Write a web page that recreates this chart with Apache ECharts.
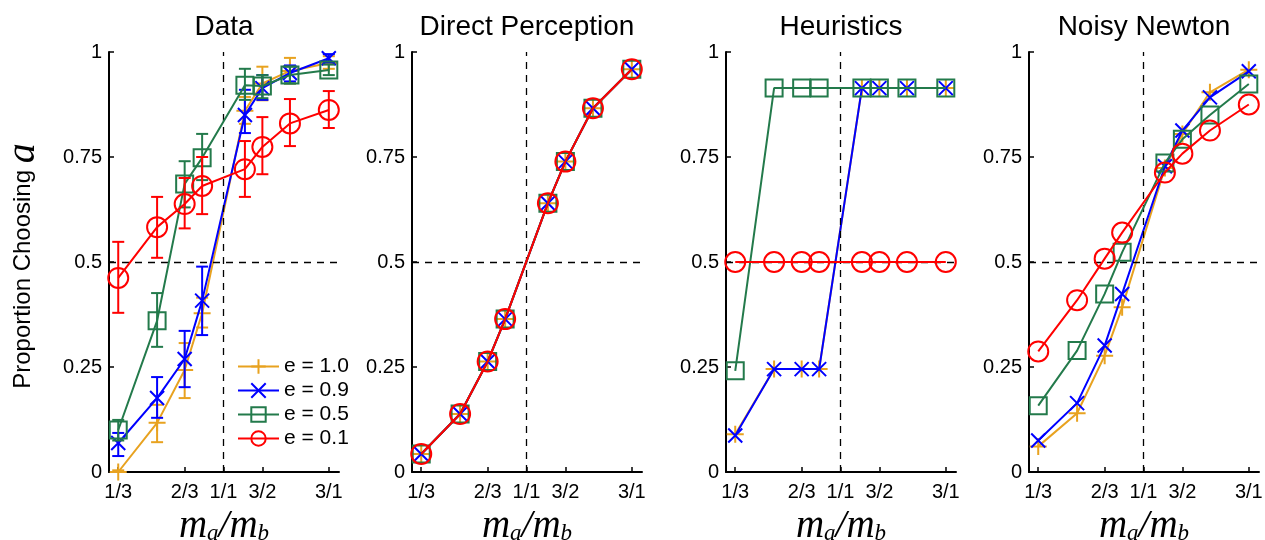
<!DOCTYPE html>
<html><head><meta charset="utf-8">
<script src="https://cdn.jsdelivr.net/npm/echarts@6/dist/echarts.min.js"></script>
<style>html,body{margin:0;padding:0;background:#fff}#c{width:1265px;height:540px}</style>
</head><body><div id="c"></div>
<script>
// ---------- data ----------
const panelTitles = ['Data', 'Direct Perception', 'Heuristics', 'Noisy Newton'];
const seriesNames = ['e = 1.0', 'e = 0.9', 'e = 0.5', 'e = 0.1'];
const seriesColors = ['#E8A21F', '#0000FF', '#237A4B', '#FF0000'];
const massRatios = [1/3, 1/2, 2/3, 4/5, 5/4, 3/2, 2, 3];
const tickRatios = [1/3, 2/3, 1, 3/2, 3];
const tickLabels = ['1/3', '2/3', '1/1', '3/2', '3/1'];

// Data panel (means and error-bar ends)
const dataE10   = [0.000, 0.117, 0.243, 0.378, 0.860, 0.925, 0.955, 0.974];
const dataE10Lo = [0.000, 0.071, 0.176, 0.344, 0.829, 0.885, 0.925, 0.960];
const dataE10Hi = [0.004, 0.160, 0.307, 0.415, 0.893, 0.965, 0.986, 0.990];
const dataE09   = [0.069, 0.176, 0.269, 0.408, 0.850, 0.914, 0.950, 0.985];
const dataE09Lo = [0.038, 0.129, 0.202, 0.326, 0.807, 0.886, 0.930, 0.975];
const dataE09Hi = [0.093, 0.226, 0.336, 0.489, 0.910, 0.945, 0.968, 0.995];
const dataE05   = [0.100, 0.360, 0.686, 0.748, 0.921, 0.919, 0.945, 0.957];
const dataE05Lo = [0.075, 0.298, 0.630, 0.695, 0.886, 0.890, 0.925, 0.945];
const dataE05Hi = [0.124, 0.426, 0.740, 0.805, 0.960, 0.945, 0.965, 0.970];
const dataE01   = [0.462, 0.583, 0.638, 0.681, 0.721, 0.774, 0.830, 0.862];
const dataE01Lo = [0.379, 0.510, 0.580, 0.614, 0.655, 0.709, 0.776, 0.819];
const dataE01Hi = [0.548, 0.655, 0.700, 0.750, 0.788, 0.845, 0.888, 0.907];

// Direct Perception
const dpE10 = [0.043, 0.138, 0.263, 0.364, 0.640, 0.739, 0.866, 0.959];
const dpE09 = [0.043, 0.138, 0.263, 0.364, 0.640, 0.739, 0.866, 0.959];
const dpE05 = [0.043, 0.138, 0.263, 0.364, 0.640, 0.739, 0.866, 0.959];
const dpE01 = [0.043, 0.138, 0.263, 0.364, 0.640, 0.739, 0.866, 0.959];

// Heuristics
const heE10 = [0.090, 0.245, 0.245, 0.245, 0.914, 0.914, 0.914, 0.914];
const heE09 = [0.087, 0.245, 0.245, 0.245, 0.914, 0.914, 0.914, 0.914];
const heE05 = [0.241, 0.914, 0.914, 0.914, 0.914, 0.914, 0.914, 0.914];
const heE01 = [0.500, 0.500, 0.500, 0.500, 0.500, 0.500, 0.500, 0.500];

// Noisy Newton
const nnE10 = [0.061, 0.140, 0.277, 0.392, 0.724, 0.805, 0.904, 0.958];
const nnE09 = [0.075, 0.164, 0.301, 0.424, 0.728, 0.813, 0.892, 0.954];
const nnE05 = [0.158, 0.289, 0.424, 0.523, 0.736, 0.792, 0.850, 0.924];
const nnE01 = [0.287, 0.409, 0.508, 0.570, 0.713, 0.758, 0.813, 0.875];

// ---------- build ----------
const panelValues = [
  [dataE10, dataE09, dataE05, dataE01],
  [dpE10, dpE09, dpE05, dpE01],
  [heE10, heE09, heE05, heE01],
  [nnE10, nnE09, nnE05, nnE01]
];
const errLows = [dataE10Lo, dataE09Lo, dataE05Lo, dataE01Lo];
const errHighs = [dataE10Hi, dataE09Hi, dataE05Hi, dataE01Hi];

const symbols = ['path://M0,-1L0,1M-1,0L1,0', 'path://M-1,-1L1,1M-1,1L1,-1', 'rect', 'circle'];
const symbolSizes = [17, 14, 17, 20];

const gridLefts = [109, 412, 726, 1029];
const gridW = 230, gridTop = 52, gridH = 420;
const sans = '"Liberation Sans", Arial, sans-serif';
const serif = '"Liberation Serif", "Times New Roman", serif';

const lnTicks = tickRatios.map(Math.log);
function tickFmt(v) {
  for (let i = 0; i < lnTicks.length; i++) if (Math.abs(lnTicks[i] - v) < 1e-6) return tickLabels[i];
  return '';
}

const grids = [], xAxes = [], yAxes = [], series = [], graphics = [];
for (let p = 0; p < 4; p++) {
  grids.push({left: gridLefts[p], top: gridTop, width: gridW, height: gridH, outerBoundsMode: 'none', containLabel: false});
  xAxes.push({
    type: 'value', gridIndex: p, min: -1.195, max: 1.205,
    axisLine: {onZero: false, lineStyle: {color: '#000', width: 2}},
    axisTick: {show: true, inside: true, length: 5, lineStyle: {color: '#000', width: 1.5}, customValues: lnTicks},
    axisLabel: {customValues: lnTicks, formatter: tickFmt, color: '#000', fontSize: 20, fontFamily: sans, margin: 10},
    splitLine: {show: false},
    name: '{m|m}{s|a}{m|/m}{s|b}', nameLocation: 'middle', nameGap: 27,
    nameTextStyle: {rich: {
      m: {fontFamily: serif, fontStyle: 'italic', fontSize: 39, color: '#000', lineHeight: 40, verticalAlign: 'bottom'},
      s: {fontFamily: serif, fontStyle: 'italic', fontSize: 23, color: '#000', lineHeight: 38, verticalAlign: 'bottom'}
    }}
  });
  yAxes.push({
    type: 'value', gridIndex: p, min: 0, max: 1, interval: 0.25,
    axisLine: {show: true, onZero: false, lineStyle: {color: '#000', width: 2}},
    axisTick: {show: true, inside: true, length: 5, lineStyle: {color: '#000', width: 1.5}},
    axisLabel: {color: '#000', fontSize: 20, fontFamily: sans, margin: 7},
    splitLine: {show: false}
  });
  for (let s = 0; s < 4; s++) {
    const vals = panelValues[p][s];
    series.push({
      type: 'line', name: seriesNames[s], xAxisIndex: p, yAxisIndex: p,
      data: massRatios.map((r, i) => [Math.log(r), vals[i]]),
      symbol: symbols[s], symbolSize: symbolSizes[s],
      lineStyle: {color: seriesColors[s], width: 2},
      itemStyle: {color: 'none', borderColor: seriesColors[s], borderWidth: 2},
      emphasis: {disabled: true}, animation: false, z: 3 + s
    });
    if (p === 0) {
      const lo = errLows[s], hi = errHighs[s], col = seriesColors[s];
      series.push({
        type: 'custom', xAxisIndex: 0, yAxisIndex: 0, animation: false, z: 3 + s,
        data: massRatios.map((r, i) => [Math.log(r), lo[i], hi[i]]),
        encode: {x: 0, y: [1, 2]},
        renderItem: function (params, api) {
          const x = api.value(0);
          const a = api.coord([x, api.value(2)]);
          const b = api.coord([x, api.value(1)]);
          const w = 6, st = {stroke: col, lineWidth: 2};
          return {type: 'group', children: [
            {type: 'line', shape: {x1: a[0], y1: a[1], x2: b[0], y2: b[1]}, style: st},
            {type: 'line', shape: {x1: a[0] - w, y1: a[1], x2: a[0] + w, y2: a[1]}, style: st},
            {type: 'line', shape: {x1: b[0] - w, y1: b[1], x2: b[0] + w, y2: b[1]}, style: st}
          ]};
        }
      });
    }
  }
  // reference dashed lines
  series.push({
    type: 'line', xAxisIndex: p, yAxisIndex: p, data: [], animation: false, z: 10,
    markLine: {
      silent: true, symbol: 'none', animation: false, label: {show: false},
      lineStyle: {color: '#000', width: 1.3, type: [7, 6]},
      data: [{yAxis: 0.5}, {xAxis: 0}]
    }
  });
  graphics.push({
    type: 'text', x: gridLefts[p] + gridW / 2, y: 27,
    style: {text: panelTitles[p], fill: '#000', font: '28px ' + sans, align: 'center', verticalAlign: 'middle'}
  });
}
graphics.push({
  type: 'text', x: 23, y: 266, rotation: Math.PI / 2,
  style: {
    text: 'Proportion Choosing {a|a}', align: 'center', verticalAlign: 'middle',
    fill: '#000', font: '24px ' + sans,
    rich: {a: {fontFamily: serif, fontStyle: 'italic', fontSize: 40, fill: '#000'}}
  }
});

const chart = echarts.init(document.getElementById('c'));
chart.setOption({
  animation: false,
  backgroundColor: '#fff',
  grid: grids, xAxis: xAxes, yAxis: yAxes, series: series,
  legend: {
    data: seriesNames, orient: 'vertical', left: 237, top: 356,
    itemWidth: 41, itemHeight: 18, itemGap: 3, padding: 0,
    textStyle: {color: '#000', fontSize: 21, fontFamily: sans},
    selectedMode: false
  },
  graphic: graphics
});
</script></body></html>
